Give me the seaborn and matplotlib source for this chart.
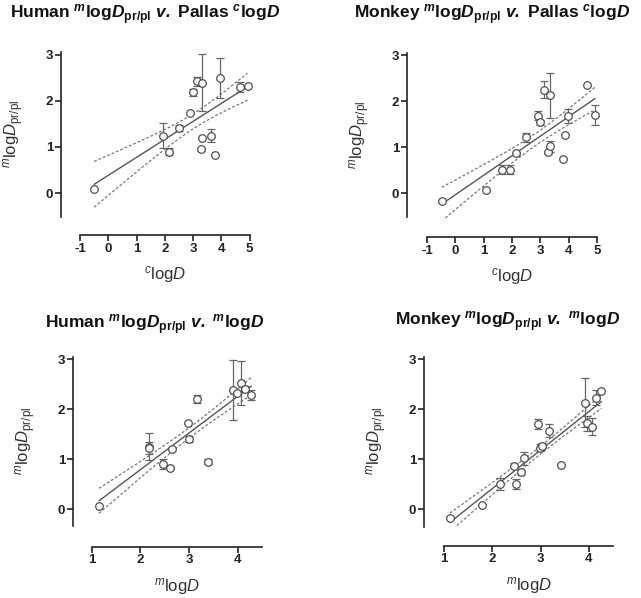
import numpy as np
import seaborn as sns
import matplotlib.pyplot as plt

# Human mlogDpr/pl vs Pallas clogD
hc_x = [-0.50, 1.93, 2.14, 2.51, 2.90, 3.00, 3.13, 3.31, 3.27, 3.33, 3.65, 3.78, 3.97, 4.66, 4.93]
hc_y = [0.09, 1.24, 0.90, 1.41, 1.74, 2.18, 2.42, 2.39, 0.95, 1.19, 1.24, 0.83, 2.50, 2.30, 2.31]
hc_err = [0, 0.27, 0.08, 0.06, 0, 0.07, 0.10, 0.62, 0.03, 0, 0.14, 0, 0.43, 0.10, 0]

# Monkey mlogDpr/pl vs Pallas clogD
mc_x = [-0.48, 1.07, 1.66, 1.94, 2.13, 2.51, 2.92, 3.00, 3.12, 3.33, 3.28, 3.35, 3.80, 3.88, 3.98, 4.66, 4.93]
mc_y = [-0.18, 0.07, 0.51, 0.51, 0.87, 1.21, 1.68, 1.54, 2.25, 2.13, 0.89, 1.02, 0.74, 1.26, 1.67, 2.36, 1.70]
mc_err = [0, 0, 0.10, 0.10, 0.03, 0.10, 0.10, 0.05, 0.18, 0.49, 0.03, 0.12, 0, 0, 0.15, 0, 0.21]

# Human mlogDpr/pl vs mlogD
hm_x = [1.15, 2.17, 2.17, 2.46, 2.60, 2.65, 2.97, 3.00, 3.17, 3.40, 3.90, 3.98, 4.06, 4.16, 4.28]
hm_y = [0.07, 1.25, 1.23, 0.91, 0.83, 1.20, 1.73, 1.40, 2.20, 0.95, 2.39, 2.32, 2.52, 2.41, 2.29]
hm_err = [0, 0.27, 0.12, 0.10, 0.03, 0, 0, 0.06, 0.08, 0.05, 0.60, 0, 0.44, 0.05, 0.10]

# Monkey mlogDpr/pl vs mlogD
mm_x = [1.12, 1.79, 2.16, 2.49, 2.45, 2.60, 2.65, 2.95, 2.99, 3.03, 3.18, 3.43, 3.93, 3.97, 4.07, 4.15, 4.26]
mm_y = [-0.17, 0.08, 0.50, 0.50, 0.87, 0.74, 1.02, 1.70, 1.23, 1.27, 1.57, 0.89, 2.13, 1.72, 1.65, 2.23, 2.37]
mm_err = [0, 0, 0.12, 0.10, 0.05, 0.05, 0.13, 0.10, 0.07, 0.05, 0.13, 0, 0.49, 0.15, 0.17, 0.15, 0]

n_rep = 3  # triplicate measurements per compound used in the fit

sns.set_style("ticks")
plt.rcParams['font.family'] = ['Liberation Sans', 'DejaVu Sans']
plt.rcParams['mathtext.fontset'] = 'custom'
plt.rcParams['mathtext.rm'] = 'Liberation Sans'
plt.rcParams['mathtext.it'] = 'Liberation Sans:italic'
plt.rcParams['mathtext.bf'] = 'Liberation Sans:bold'
plt.rcParams['mathtext.bfit'] = 'Liberation Sans:italic:bold'
plt.rcParams['axes.unicode_minus'] = False

W, H = 641, 598
fig = plt.figure(figsize=(W / 100, H / 100), dpi=100)

ylab = r"$^{m}\mathrm{log}D_{\mathrm{pr/pl}}$"
sub = r"$^{\mathbfit{m}}\mathbf{log}\mathbfit{D}_{\mathbf{pr/pl}}$"
vv = r"$\mathbfit{v.}$"


def panel(box, x, y, err, xlim, xbounds, xticks, xlab, ylim, ybounds, off_l, off_b):
    l, t, r, b = box
    ax = fig.add_axes([l / W, 1 - b / H, (r - l) / W, (b - t) / H])
    x = np.array(x); y = np.array(y); err = np.array(err)
    # linear fit + 95% confidence band of the line
    n = len(x) * n_rep
    slope, icpt = np.polyfit(x, y, 1)
    res = y - (slope * x + icpt)
    s = np.sqrt(np.sum(res ** 2) * n_rep / (n - 2))
    xs = np.linspace(x.min(), x.max(), 100)
    sxx = np.sum((x - x.mean()) ** 2) * n_rep
    half = 2.02 * s * np.sqrt(1 / n + (xs - x.mean()) ** 2 / sxx)
    fit = slope * xs + icpt
    ax.plot(xs, fit, color='#555555', lw=1.0)
    ax.plot(xs, fit + half, color='#777777', lw=0.9, ls=(0, (2.2, 1.6)))
    ax.plot(xs, fit - half, color='#777777', lw=0.9, ls=(0, (2.2, 1.6)))
    m = err > 0
    ax.errorbar(x[m], y[m], yerr=err[m], fmt='none', ecolor='#666666',
                elinewidth=0.9, capsize=3, capthick=0.9, clip_on=False)
    sns.scatterplot(x=x, y=y, ax=ax, marker='o', s=30, facecolor='white',
                    edgecolor='#505050', linewidth=0.9, zorder=5, clip_on=False)
    ax.set_xlim(*xlim)
    ax.set_ylim(*ylim)
    ax.set_xticks(xticks)
    ax.set_yticks([0, 1, 2, 3])
    ax.spines[['top', 'right']].set_visible(False)
    ax.spines['left'].set_position(('outward', off_l * 0.72))
    ax.spines['bottom'].set_position(('outward', off_b * 0.72))
    ax.spines['left'].set_bounds(*ybounds)
    ax.spines['bottom'].set_bounds(*xbounds)
    for sp in ['left', 'bottom']:
        ax.spines[sp].set_linewidth(1.2)
        ax.spines[sp].set_color('#222222')
    ax.tick_params(length=4, width=1.2, color='#222222', pad=1.5,
                   labelsize=9.5, labelcolor='#222222')
    for lab in ax.get_xticklabels() + ax.get_yticklabels():
        lab.set_fontweight('bold')
    ax.set_xlabel(xlab, fontsize=12, color='#333333', labelpad=7)
    ax.set_ylabel(ylab, fontsize=12, color='#333333', labelpad=14)
    return ax


clab = r"$^{c}\mathrm{log}D$"
mlab = r"$^{m}\mathrm{log}D$"

panel((80, 50, 249.5, 218.5), hc_x, hc_y, hc_err, (-1, 5), (-1, 5), range(-1, 6), clab,
      (-0.55, 3.1), (-0.52, 3.05), 19, 16.5)
panel((427, 50.5, 597, 218.5), mc_x, mc_y, mc_err, (-1, 5), (-1, 5), range(-1, 6), clab,
      (-0.55, 3.1), (-0.52, 3.05), 20, 18.5)
panel((91.7, 354.3, 262, 526.8), hm_x, hm_y, hm_err, (1, 4.5), (1, 4.5), [1, 2, 3, 4], mlab,
      (-0.35, 3.1), (-0.33, 3.05), 18.7, 20)
panel((444, 354.3, 613, 526.8), mm_x, mm_y, mm_err, (1, 4.5), (1, 4.5), [1, 2, 3, 4], mlab,
      (-0.35, 3.1), (-0.35, 3.05), 20, 19)

tkw = dict(ha='center', va='center', fontsize=12.5, fontweight='bold', color='#111111')
fig.text(145 / W, 1 - 15 / H, "Human " + sub + " " + vv + " Pallas " + r"$^{\mathbfit{c}}\mathbf{log}\mathbfit{D}$", **tkw)
fig.text(492 / W, 1 - 15 / H, "Monkey " + sub + " " + vv + " Pallas " + r"$^{\mathbfit{c}}\mathbf{log}\mathbfit{D}$", **tkw)
fig.text(155 / W, 1 - 325 / H, "Human " + sub + " " + vv + " " + r"$^{\mathbfit{m}}\mathbf{log}\mathbfit{D}$", **tkw)
fig.text(508 / W, 1 - 322 / H, "Monkey " + sub + " " + vv + " " + r"$^{\mathbfit{m}}\mathbf{log}\mathbfit{D}$", **tkw)

fig.savefig("out.png", dpi=100)
